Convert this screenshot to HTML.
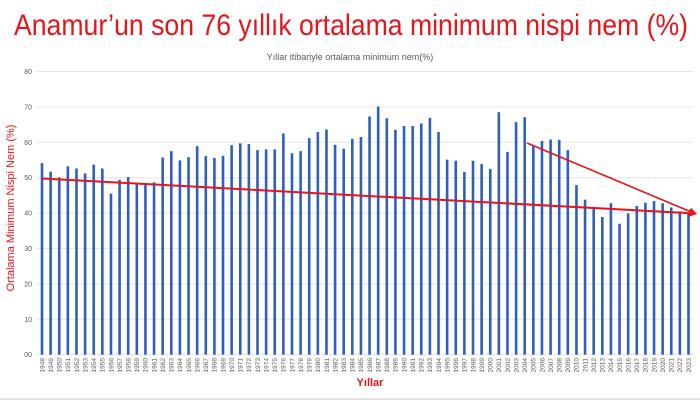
<!DOCTYPE html>
<html><head><meta charset="utf-8"><style>
html,body{margin:0;padding:0;background:#fff;width:700px;height:400px;overflow:hidden}
svg{display:block}
</style></head><body>
<svg width="700" height="400" xmlns="http://www.w3.org/2000/svg" font-family="Liberation Sans, sans-serif">
<rect x="0" y="0" width="700" height="400" fill="#fff"/>
<rect x="0" y="398" width="700" height="2" fill="#e4e4e4"/>
<text x="14" y="35" font-size="30" fill="#e8141c" textLength="674" lengthAdjust="spacingAndGlyphs">Anamur’un son 76 yıllık ortalama minimum nispi nem (%)</text>
<text x="350" y="60" font-size="9" fill="#595959" text-anchor="middle">Yıllar itibariyle ortalama minimum nem(%)</text>
<g id="grid" stroke="#e6e6e6" stroke-width="1"></g>
<g id="yl" font-size="7" fill="#595959" text-anchor="end"></g>
<g id="bars" fill="#2e5fbf"></g>
<g id="xl" font-size="6.5" fill="#595959"></g>
<text transform="translate(14,208) rotate(-90)" font-size="11" fill="#e8141c" text-anchor="middle">Ortalama Minimum Nispi Nem (%)</text>
<text x="370" y="386" font-size="11" font-weight="bold" fill="#e8141c" text-anchor="middle">Yıllar</text>
<defs><marker id="ah" markerWidth="8" markerHeight="8" refX="7" refY="4" orient="auto" markerUnits="userSpaceOnUse"><path d="M0,0 L8,4 L0,8 z" fill="#e8141c"/></marker></defs>
<line x1="42" y1="178.5" x2="696" y2="213.5" stroke="#e8141c" stroke-width="2" marker-end="url(#ah)"/>
<line x1="527" y1="143" x2="696" y2="214" stroke="#e8141c" stroke-width="1.6" marker-end="url(#ah)"/>
</svg>
<script>
var v=[54.1,51.7,50.1,53.2,52.6,51.2,53.7,52.6,45.5,49.4,50.2,48.5,48.5,48.7,55.7,57.5,54.9,55.8,58.9,56.1,55.6,56.2,59.2,59.7,59.5,57.8,58,58,62.5,56.9,57.5,61.2,62.9,63.6,59.3,58.2,61,61.5,67.3,70.1,66.8,63.5,64.6,64.6,65.3,66.9,62.9,55.1,54.8,51.6,54.8,53.9,52.5,68.5,57.3,65.7,67.1,58.9,60.4,60.8,60.7,57.8,47.9,43.8,41.3,38.9,42.8,37,39.9,42,42.9,43.4,42.8,41.6,40.5,39.9];
var ns="http://www.w3.org/2000/svg";
function el(t,a,p,txt){var e=document.createElementNS(ns,t);for(var k in a)e.setAttribute(k,a[k]);if(txt)e.textContent=txt;document.getElementById(p).appendChild(e);}
var y0=354.7,s=3.54;
for(var i=0;i<=8;i++){var y=y0-i*10*s;el('line',{x1:36,x2:693,y1:y,y2:y},'grid');el('text',{x:32,y:y+2.5},'yl',i==0?'00':String(i*10));}
for(var i=0;i<v.length;i++){var x=42+i*8.62;var h=v[i]*s;el('rect',{x:x-1.3,y:y0-h,width:2.6,height:h},'bars');
el('text',{transform:'translate('+(x+2.3)+',358) rotate(-90)','text-anchor':'end'},'xl',String(1948+i));}
</script>
</body></html>
